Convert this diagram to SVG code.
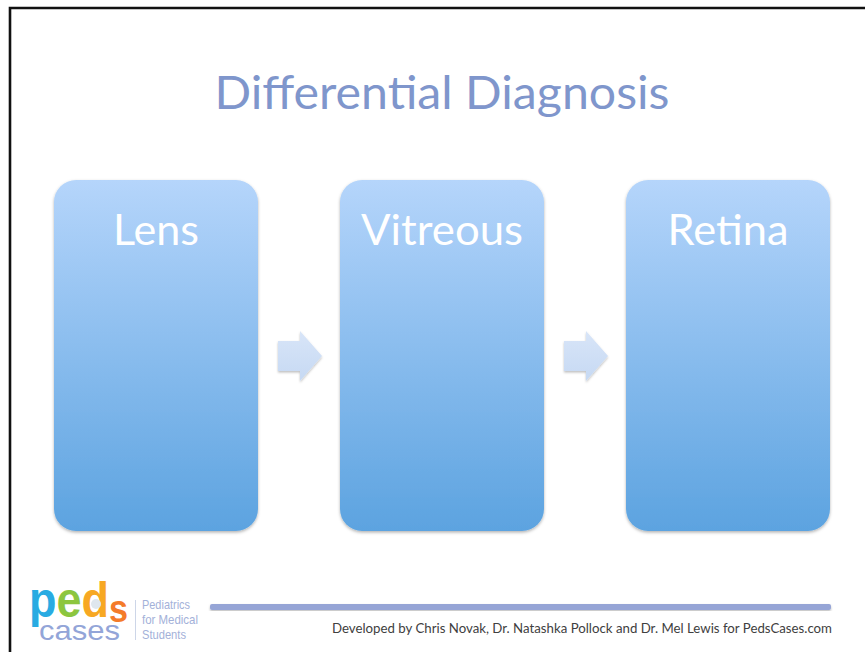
<svg xmlns="http://www.w3.org/2000/svg" width="865" height="652" viewBox="0 0 865 652">
<style>
.t{font-family:Lato,"Open Sans",sans-serif}
.h{font-size:42px;fill:#fff;text-anchor:middle}
.box{fill:url(#g);filter:url(#s)}
.arr{fill:url(#a);filter:url(#s2)}
.lg{font-family:"Liberation Sans",Arial,sans-serif}
.sub{font-size:13px;fill:#a3b1d9}
</style>
<defs>
<linearGradient id="g" x1="0" y1="0" x2="0" y2="1"><stop offset="0" stop-color="#b5d5fb"/><stop offset="1" stop-color="#5ca3e0"/></linearGradient>
<linearGradient id="a" x1="0" y1="0" x2="0" y2="1"><stop offset="0" stop-color="#d8e5f8"/><stop offset="1" stop-color="#c6d9f3"/></linearGradient>
<filter id="s" x="-5%" y="-5%" width="110%" height="110%"><feDropShadow dx="0" dy="1.5" stdDeviation="1.5" flood-color="#000" flood-opacity=".3"/></filter>
<filter id="s2" x="-15%" y="-15%" width="130%" height="130%"><feDropShadow dx="0" dy="1.5" stdDeviation="1.2" flood-color="#000" flood-opacity=".25"/></filter>
</defs>
<rect width="865" height="652" fill="#fff"/>
<path id="frame" d="M10 652V8H865" fill="none" stroke="#111" stroke-width="2.6"/>
<text id="title" class="t" x="442" y="109" font-size="46.5" fill="#7f96cc" text-anchor="middle" textLength="455" lengthAdjust="spacingAndGlyphs">Differential Diagnosis</text>
<g id="lens"><rect class="box" x="54" y="180" width="204" height="351" rx="22"/><text class="t h" x="156" y="245" textLength="86" lengthAdjust="spacingAndGlyphs">Lens</text></g>
<g id="vitreous"><rect class="box" x="340" y="180" width="204" height="351" rx="22"/><text class="t h" x="442" y="245" textLength="162" lengthAdjust="spacingAndGlyphs">Vitreous</text></g>
<g id="retina"><rect class="box" x="626" y="180" width="204" height="351" rx="22"/><text class="t h" x="728" y="245" textLength="121" lengthAdjust="spacingAndGlyphs">Retina</text></g>
<g id="connectors">
<path class="arr" d="M278 341H300V331L322 356L300 381V371H278Z"/>
<path class="arr" d="M564 341H586V331L608 356L586 381V371H564Z"/>
</g>
<g id="footer">
<rect x="210" y="604" width="621" height="6" rx="2" fill="#96a5d6" filter="url(#s2)"/>
<text class="t" x="332" y="633" font-size="13" fill="#404040" textLength="500" lengthAdjust="spacingAndGlyphs">Developed by Chris Novak, Dr. Natashka Pollock and Dr. Mel Lewis for PedsCases.com</text>
</g>
<g id="logo">
<text class="lg" x="29" y="617" font-size="50" font-weight="700" textLength="99" lengthAdjust="spacingAndGlyphs"><tspan fill="#29abe2">p</tspan><tspan fill="#8cc63f">e</tspan><tspan fill="#f7a823">d</tspan><tspan fill="#f47b2a" font-size="38" dy="5">s</tspan></text>
<circle cx="96" cy="604" r="5" fill="#dfe6ee"/>
<text class="lg" x="39" y="640" font-size="28" fill="#93a5d8" textLength="81" lengthAdjust="spacingAndGlyphs">cases</text>
<rect x="135" y="600" width="1" height="40" fill="#cdd6e8"/>
<text class="lg sub" x="142" y="609" textLength="48" lengthAdjust="spacingAndGlyphs">Pediatrics</text>
<text class="lg sub" x="142" y="624" textLength="56" lengthAdjust="spacingAndGlyphs">for Medical</text>
<text class="lg sub" x="142" y="639" textLength="44" lengthAdjust="spacingAndGlyphs">Students</text>
</g>
</svg>
